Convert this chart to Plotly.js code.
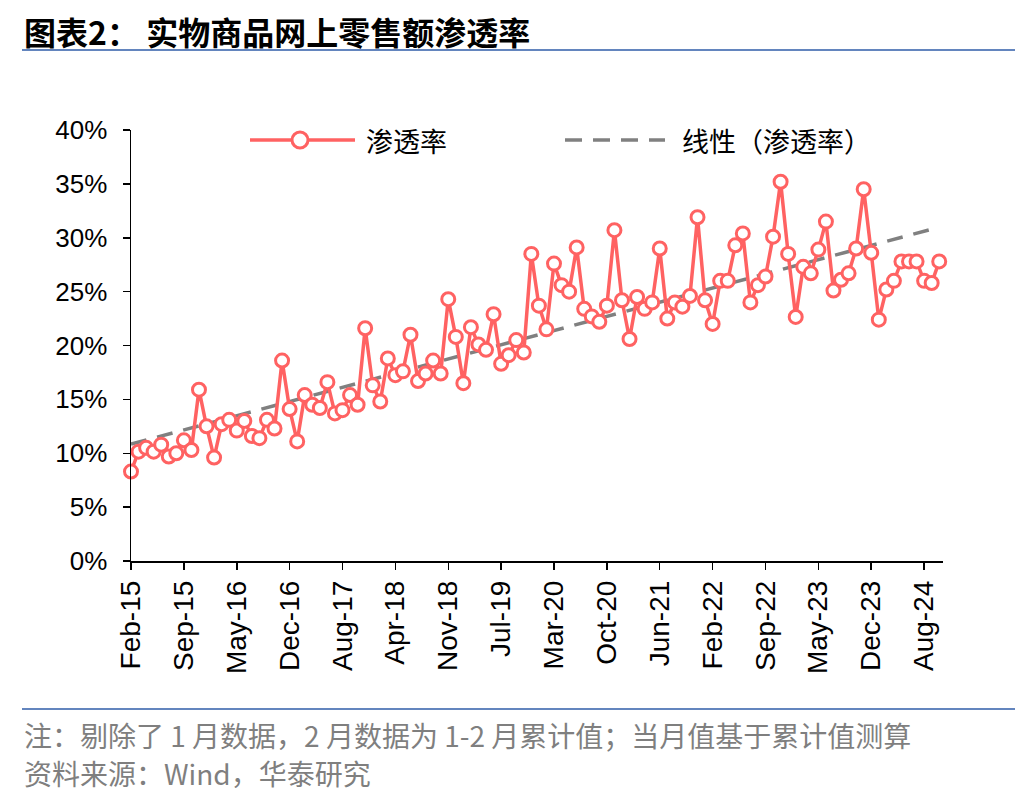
<!DOCTYPE html>
<html>
<head>
<meta charset="utf-8">
<script src="https://cdn.plot.ly/plotly-3.0.1.min.js"></script>
<style>
  html, body { margin: 0; padding: 0; background: #ffffff; }
  #chart { width: 1036px; height: 800px; }
</style>
</head>
<body>
<div id="chart"></div>
<script>
// months shown (January is dropped, Feb is Jan-Feb cumulative)
const months = ["Feb", "Mar", "Apr", "May", "Jun", "Jul", "Aug", "Sep", "Oct", "Nov", "Dec"];
const years = ["15", "16", "17", "18", "19", "20", "21", "22", "23", "24"];

// online retail penetration of physical goods, %, read month by month
const pen2015 = [8.3, 10.15, 10.5, 10.15, 10.8, 9.7, 10.0, 11.2, 10.3, 15.9, 12.5];
const pen2016 = [9.6, 12.7, 13.1, 12.1, 13.0, 11.6, 11.4, 13.1, 12.3, 18.6, 14.1];
const pen2017 = [11.1, 15.4, 14.5, 14.2, 16.6, 13.7, 14.0, 15.4, 14.5, 21.6, 16.3];
const pen2018 = [14.8, 18.8, 17.25, 17.6, 21.0, 16.7, 17.4, 18.6, 17.4, 24.3, 20.8];
const pen2019 = [16.5, 21.7, 20.1, 19.6, 22.9, 18.3, 19.1, 20.5, 19.35, 28.5, 23.7];
const pen2020 = [21.5, 27.6, 25.6, 25.0, 29.1, 23.4, 22.7, 22.2, 23.7, 30.7, 24.2];
const pen2021 = [20.6, 24.5, 23.4, 24.0, 29.0, 22.5, 24.0, 23.6, 24.6, 31.9, 24.2];
const pen2022 = [22.0, 26.0, 26.0, 29.3, 30.4, 24.0, 25.6, 26.4, 30.1, 35.2, 28.5];
const pen2023 = [22.65, 27.3, 26.7, 28.9, 31.5, 25.1, 26.1, 26.7, 29.0, 34.5, 28.6];
const pen2024 = [22.4, 25.2, 26.0, 27.8, 27.8, 27.8, 26.0, 25.8, 27.8];

const yearValues = [pen2015, pen2016, pen2017, pen2018, pen2019, pen2020, pen2021, pen2022, pen2023, pen2024];

const categories = [];
const values = [];
yearValues.forEach((arr, yi) => {
  arr.forEach((v, mi) => {
    categories.push(months[mi] + "-" + years[yi]);
    values.push(v);
  });
});

const tickLabels = categories.filter((c, i) => i % 7 === 0);

// least squares trend, as the spreadsheet "linear" trendline
const n = values.length;
let sx = 0, sy = 0, sxx = 0, sxy = 0;
values.forEach((v, i) => { sx += i; sy += v; sxx += i * i; sxy += i * v; });
const slope = (n * sxy - sx * sy) / (n * sxx - sx * sx);
const intercept = (sy - slope * sx) / n;
const trend = values.map((v, i) => intercept + slope * i);

const RED = "#FF6262";
const GREY = "#808080";
const RULE = "#6385BE";

// plot area in pixels: x 131..943, y 130..561
const L = 131, R = 943, T = 130, B = 561;
const px = (x) => (x - L) / (R - L);
const py = (y) => (B - y) / (B - T);

const traces = [
  {
    type: "scatter",
    mode: "lines",
    x: categories,
    y: trend,
    line: { color: GREY, width: 3.5, dash: "16px,11px" },
    hoverinfo: "skip",
    showlegend: false,
  },
  {
    type: "scatter",
    mode: "lines+markers",
    x: categories,
    y: values,
    line: { color: RED, width: 3.5 },
    marker: { size: 13, color: "#ffffff", line: { color: RED, width: 3 } },
    cliponaxis: false,
    showlegend: false,
  },
];

const latin = "Liberation Sans, Arial, sans-serif";
const cjk = "Noto Sans CJK SC, sans-serif";

const layout = {
  width: 1036,
  height: 800,
  paper_bgcolor: "#ffffff",
  plot_bgcolor: "#ffffff",
  margin: { l: L, r: 1036 - R, t: T, b: 800 - B },
  showlegend: false,
  xaxis: {
    type: "category",
    categoryorder: "array",
    categoryarray: categories,
    range: [0, 107.5],
    tickmode: "array",
    tickvals: tickLabels,
    ticktext: tickLabels,
    tickangle: -90,
    tickfont: { family: latin, size: 28, color: "#000000" },
    ticks: "outside",
    ticklen: 7,
    tickwidth: 1.5,
    tickcolor: "#000000",
    showline: true,
    linecolor: "#000000",
    linewidth: 1.5,
    showgrid: false,
    zeroline: false,
  },
  yaxis: {
    range: [0, 40],
    dtick: 5,
    ticksuffix: "%",
    tickfont: { family: latin, size: 26, color: "#000000" },
    ticklabelstandoff: 10,
    ticks: "outside",
    ticklen: 7,
    tickwidth: 1.5,
    tickcolor: "#000000",
    showline: true,
    linecolor: "#000000",
    linewidth: 1.5,
    showgrid: false,
    zeroline: false,
  },
  shapes: [
    // rule under the title and above the notes
    { type: "line", xref: "paper", yref: "paper", x0: px(22), x1: px(1015), y0: py(50), y1: py(50),
      line: { color: RULE, width: 2 } },
    { type: "line", xref: "paper", yref: "paper", x0: px(22), x1: px(1015), y0: py(709), y1: py(709),
      line: { color: RULE, width: 2 } },
    // legend keys
    { type: "line", xref: "paper", yref: "paper", x0: px(250), x1: px(355), y0: py(140), y1: py(140),
      line: { color: RED, width: 3.5 } },
    { type: "circle", xref: "paper", yref: "paper", x0: px(292), x1: px(308), y0: py(132), y1: py(148),
      fillcolor: "#ffffff", line: { color: RED, width: 3 } },
    { type: "line", xref: "paper", yref: "paper", x0: px(565), x1: px(665), y0: py(140), y1: py(140),
      line: { color: GREY, width: 3.5, dash: "17px,11px" } },
  ],
  annotations: [
    { xref: "paper", yref: "paper", x: px(22), y: py(31), xanchor: "left", yanchor: "middle",
      text: "<b>图表2： 实物商品网上零售额渗透率</b>", showarrow: false,
      font: { family: cjk, size: 32, color: "#000000" } },
    { xref: "paper", yref: "paper", x: px(364), y: py(140), xanchor: "left", yanchor: "middle",
      text: "渗透率", showarrow: false, font: { family: cjk, size: 27, color: "#000000" } },
    { xref: "paper", yref: "paper", x: px(680), y: py(140), xanchor: "left", yanchor: "middle",
      text: "线性（渗透率）", showarrow: false, font: { family: cjk, size: 27, color: "#000000" } },
    { xref: "paper", yref: "paper", x: px(22), y: py(735), xanchor: "left", yanchor: "middle",
      text: "注：剔除了 1 月数据，2 月数据为 1-2 月累计值；当月值基于累计值测算", showarrow: false,
      font: { family: cjk, size: 28, color: "#7F7F7F" } },
    { xref: "paper", yref: "paper", x: px(22), y: py(773), xanchor: "left", yanchor: "middle",
      text: "资料来源：Wind，华泰研究", showarrow: false,
      font: { family: cjk, size: 28, color: "#7F7F7F" } },
  ],
};

Plotly.newPlot("chart", traces, layout, { displayModeBar: false, staticPlot: true });
</script>
</body>
</html>
